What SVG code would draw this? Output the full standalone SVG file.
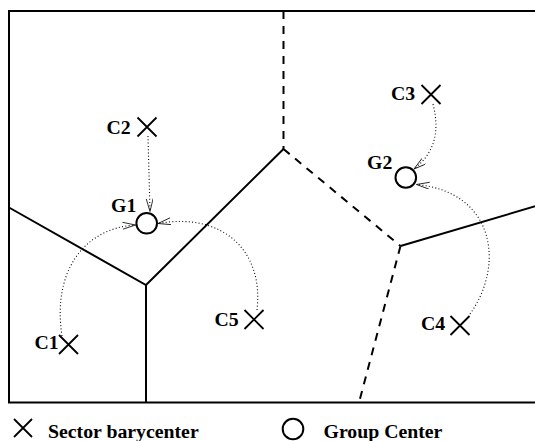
<svg xmlns="http://www.w3.org/2000/svg" width="535" height="441" viewBox="0 0 535 441">
<style>
.solid{stroke:#000;stroke-width:2;fill:none}
.dash{stroke:#000;stroke-width:2;fill:none;stroke-dasharray:8 7}
.dot{stroke:#000;stroke-width:1.1;fill:none;stroke-dasharray:1 2.3}
.x{stroke:#000;stroke-width:1.8;fill:none}
.g{stroke:#000;stroke-width:2;fill:#fff}
text{font-family:"Liberation Serif","Times New Roman",serif;font-weight:bold;font-size:19.8px;fill:#000}
</style>
<defs>
<marker id="arr" markerUnits="userSpaceOnUse" markerWidth="15" markerHeight="9" refX="13" refY="3.5" orient="auto">
<path d="M0,0 L13,3.5 L0,7" fill="none" stroke="#000" stroke-width="0.8"/>
</marker>
</defs>
<rect width="535" height="441" fill="#fff"/>
<g id="sectors">
<path class="solid" d="M536 11 H9 V402.5 H536"/>
<path class="solid" d="M9 207.5 L146 285 L283.5 149 M146 285 V402.5 M400.5 246 L536 206"/>
<path class="dash" d="M283.5 11 V149 M283.5 149 L400.5 246 M400.5 246 L359 402.5"/>
</g>
<g id="connectors">
<path class="dot" d="M148 136 L150 211.5" marker-end="url(#arr)"/>
<path class="dot" d="M62 336 C52 270 85 228 135.5 225" marker-end="url(#arr)"/>
<path class="dot" d="M257 310 C264 250 222 212 158 223.5" marker-end="url(#arr)"/>
<path class="dot" d="M433 104 C441 135 432 155 414 169" marker-end="url(#arr)"/>
<path class="dot" d="M470 314 C505 265 495 192 416.5 184.5" marker-end="url(#arr)"/>
</g>
<g id="C1"><path class="x" d="M59 335 L78 354 M78 335 L59 354"/><text x="34.5" y="348.5">C1</text></g>
<g id="C2"><path class="x" d="M137.5 117.5 L156.5 136.5 M156.5 117.5 L137.5 136.5"/><text x="106.5" y="133.5">C2</text></g>
<g id="C3"><path class="x" d="M421.5 85 L440.5 104 M440.5 85 L421.5 104"/><text x="391" y="100">C3</text></g>
<g id="C4"><path class="x" d="M450.5 316 L469.5 335 M469.5 316 L450.5 335"/><text x="421" y="330">C4</text></g>
<g id="C5"><path class="x" d="M244.5 310 L263.5 329 M263.5 310 L244.5 329"/><text x="214.5" y="325.5">C5</text></g>
<g id="G1"><circle class="g" cx="146.7" cy="223.3" r="10.3"/><text x="111" y="212">G1</text></g>
<g id="G2"><circle class="g" cx="405.8" cy="177.5" r="10.3"/><text x="367" y="168.5">G2</text></g>
<g id="legend">
<path class="x" d="M14 419 L32 437 M32 419 L14 437"/>
<text x="48" y="437.5">Sector barycenter</text>
<circle class="g" cx="293" cy="429" r="10.3"/>
<text x="323.5" y="437.5">Group Center</text>
</g>
</svg>
